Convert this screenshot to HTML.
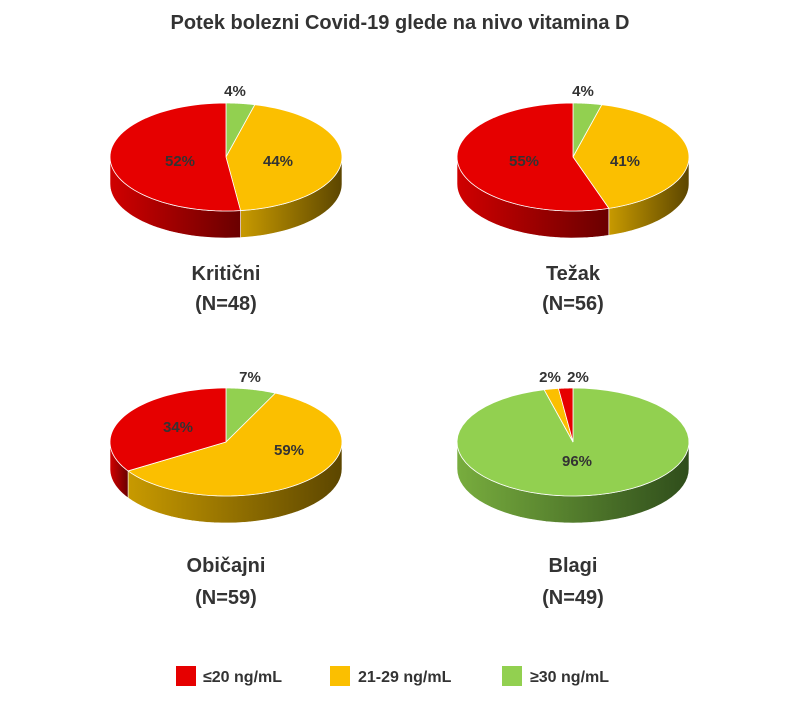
<!DOCTYPE html>
<html><head><meta charset="utf-8"><style>
body{margin:0;background:#fff;}
svg text{font-family:"Liberation Sans",sans-serif;fill:#333;font-weight:bold;}
</style></head><body>
<svg id="s" width="800" height="700" viewBox="0 0 800 700" xmlns="http://www.w3.org/2000/svg">
<defs>
<linearGradient id="gr" x1="0" x2="1"><stop offset="0" stop-color="#d00000"/><stop offset="1" stop-color="#6a0000"/></linearGradient>
<linearGradient id="gy" x1="0" x2="1"><stop offset="0" stop-color="#c89a00"/><stop offset="1" stop-color="#5c4600"/></linearGradient>
<linearGradient id="gg" x1="0" x2="1"><stop offset="0" stop-color="#78ad3e"/><stop offset="1" stop-color="#2f4d1b"/></linearGradient>
</defs>
<text x="400" y="29" text-anchor="middle" font-size="20">Potek bolezni Covid-19 glede na nivo vitamina D</text>
<g id="pies"></g>
<g font-size="20" text-anchor="middle">
<text x="226" y="280">Kritični</text><text x="226" y="310">(N=48)</text>
<text x="573" y="280">Težak</text><text x="573" y="310">(N=56)</text>
<text x="226" y="572">Običajni</text><text x="226" y="604">(N=59)</text>
<text x="573" y="572">Blagi</text><text x="573" y="604">(N=49)</text>
</g>
<g font-size="15" text-anchor="middle">
<text x="235" y="96">4%</text><text x="180" y="166">52%</text><text x="278" y="166">44%</text>
<text x="583" y="96">4%</text><text x="524" y="166">55%</text><text x="625" y="166">41%</text>
<text x="250" y="382">7%</text><text x="178" y="432">34%</text><text x="289" y="455">59%</text>
<text x="550" y="382">2%</text><text x="578" y="382">2%</text><text x="577" y="466">96%</text>
</g>
<g font-size="16">
<rect x="176" y="666" width="20" height="20" fill="#e60000"/><text x="203" y="682">≤20 ng/mL</text>
<rect x="330" y="666" width="20" height="20" fill="#fbbf00"/><text x="358" y="682">21-29 ng/mL</text>
<rect x="502" y="666" width="20" height="20" fill="#92d050"/><text x="530" y="682">≥30 ng/mL</text>
</g>
</svg>
<script>
const C={g:["#92d050","url(#gg)"],y:["#fbbf00","url(#gy)"],r:["#e60000","url(#gr)"]};
const pies=[[226,157,[["g",4],["y",44],["r",52]]],[573,157,[["g",4],["y",41],["r",55]]],
[226,442,[["g",7],["y",59],["r",34]]],[573,442,[["g",96],["y",2],["r",2]]]];
const rx=116,ry=54,d=27;let out="";
function P(cx,cy,t,dy){return [cx+rx*Math.sin(t),cy-ry*Math.cos(t)+(dy||0)];}
for(const [cx,cy,sl] of pies){
 let a=0,sides="",tops="";
 for(const [k,p] of sl){
  const a0=a*Math.PI/180*3.6,a1=(a+p)*Math.PI/180*3.6;a+=p;
  const s0=Math.max(a0,Math.PI/2),s1=Math.min(a1,3*Math.PI/2);
  if(s1>s0){let pts=[];const n=40;
   for(let i=0;i<=n;i++)pts.push(P(cx,cy,s0+(s1-s0)*i/n));
   for(let i=n;i>=0;i--)pts.push(P(cx,cy,s0+(s1-s0)*i/n,d));
   sides+=`<path d="M${pts.map(q=>q.join(",")).join("L")}Z" fill="${C[k][1]}" stroke="#fff" stroke-width="0.6"/>`;}
  let pts=[[cx,cy]];const n=60;
  for(let i=0;i<=n;i++)pts.push(P(cx,cy,a0+(a1-a0)*i/n));
  tops+=`<path d="M${pts.map(q=>q.join(",")).join("L")}Z" fill="${C[k][0]}" stroke="#fff" stroke-width="0.8"/>`;
 }
 out+=sides+tops;
}
document.getElementById("pies").innerHTML=out;
</script>
</body></html>
